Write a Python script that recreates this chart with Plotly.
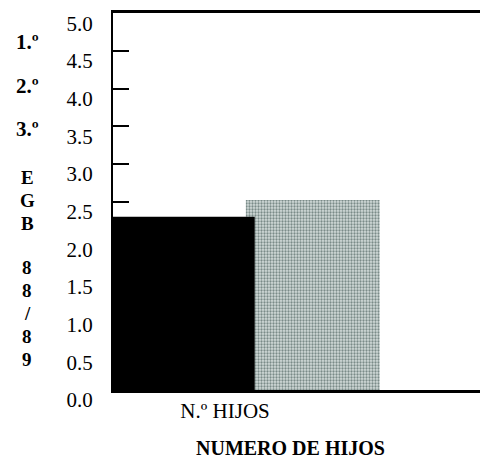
import plotly.graph_objects as go

categories = ["N.º HIJOS"]
serie_a = [2.3]   # black bar
serie_b = [2.52]  # stippled grey bar
y_ticks = [0.0, 0.5, 1.0, 1.5, 2.0, 2.5, 3.0, 3.5, 4.0, 4.5, 5.0]
y_tick_labels = ["0.0", "0.5", "1.0", "1.5", "2.0", "2.5", "3.0", "3.5", "4.0", "4.5", "5.0"]
side_labels = ["1.º", "2.º", "3.º", "E", "G", "B", "8", "8", "/", "8", "9"]

FONT = "Liberation Serif"

fig = go.Figure()
fig.add_trace(go.Bar(
    x=categories, y=serie_b, offset=0.056, width=0.361,
    marker=dict(color="#c9d3d1", line=dict(width=0),
                pattern=dict(shape=".", fgcolor="#7a8b88", bgcolor="#d3dcda",
                             size=3, solidity=0.45, fillmode="replace")),
    showlegend=False,
))
fig.add_trace(go.Bar(
    x=categories, y=serie_a, offset=-0.302, width=0.382,
    marker=dict(color="black", line=dict(width=0)),
    showlegend=False,
))

# side labels (window pixel positions converted to paper coords)
side_y_px = [41, 85, 128, 177, 200, 223, 267, 290, 313, 336, 359]
left_px, right_px = 113, 486
top_px, bottom_px = 12, 390
for txt, ypx in zip(side_labels, side_y_px):
    fig.add_annotation(
        text=f"<b>{txt}</b>", xref="paper", yref="paper",
        x=(27 - left_px) / (right_px - left_px),
        y=(bottom_px - ypx) / (bottom_px - top_px),
        xanchor="center", yanchor="middle", showarrow=False,
        font=dict(family=FONT, size=19 if len(txt) == 1 else 21, color="black"),
    )

fig.add_annotation(
    text="<b>NUMERO DE HIJOS</b>", xref="paper", yref="paper",
    x=(291 - left_px) / (right_px - left_px),
    y=(bottom_px - 448) / (bottom_px - top_px),
    xanchor="center", yanchor="middle", showarrow=False,
    font=dict(family=FONT, size=20, color="black"),
)

# page body adds an 8px margin, so the figure is 480x450 and offsets are reduced by 8
fig.update_layout(
    width=480, height=450,
    margin=dict(l=105, r=2, t=4, b=68),
    paper_bgcolor="white", plot_bgcolor="white",
    barmode="overlay",
    font=dict(family=FONT, size=20, color="black"),
    xaxis=dict(
        type="category", range=[-0.302, 0.698],
        showline=True, linecolor="black", linewidth=2.5, mirror=True,
        showgrid=False, ticks="", zeroline=False,
        tickfont=dict(family=FONT, size=21, color="black"),
    ),
    yaxis=dict(
        range=[0, 5.002], tickvals=y_ticks, ticktext=y_tick_labels,
        showline=True, linecolor="black", linewidth=2, mirror=True,
        showgrid=False, zeroline=False,
        ticks="inside", ticklen=16, tickwidth=2, tickcolor="black",
        ticklabelshift=10, ticklabelstandoff=14,
        tickfont=dict(family=FONT, size=21, color="black"),
    ),
)

fig.write_html("out.html")
